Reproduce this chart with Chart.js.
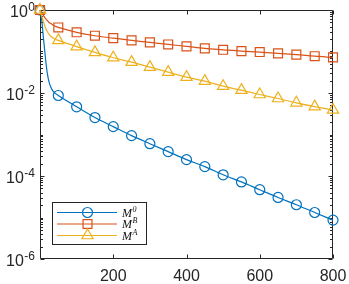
<!DOCTYPE html>
<html><head><meta charset="utf-8">
<script src="https://cdn.jsdelivr.net/npm/chart.js@4/dist/chart.umd.min.js"></script>
<style>html,body{margin:0;padding:0;background:#fff}#wrap{width:349px;height:284px}</style>
</head><body><div id="wrap"><canvas id="c" width="349" height="284"></canvas></div>
<script>
// ---- data ----
const iterations = [0,2,5,10,15,20,25,30,35,40,50,100,150,200,250,300,350,400,450,500,550,600,650,700,750,800];
const seriesM0 = [1,0.79,0.54,0.186,0.068,0.0297,0.018,0.0135,0.0113,0.0101,0.0087,0.00465,0.00256,0.00155,0.00094,0.0006,0.000386,0.000248,0.000168,0.000107,0.000072,0.0000467,0.0000304,0.0000203,0.0000132,0.00000865];
const seriesMB = [1,0.95,0.88,0.72,0.63,0.56,0.5,0.47,0.435,0.41,0.38,0.29,0.24,0.21,0.185,0.166,0.148,0.133,0.119,0.110,0.102,0.097,0.090,0.084,0.077,0.072];
const seriesMA = [1,0.85,0.7,0.5,0.37,0.3,0.26,0.23,0.215,0.2,0.185,0.131,0.095,0.0708,0.0555,0.042,0.0318,0.0241,0.0193,0.0146,0.0117,0.0092,0.00736,0.0058,0.0047,0.0039];
const seriesBase = ['M','M','M'];
const seriesSup = ['0','B','A'];
const xTickValues = [200,400,600,800];
const xTickLabels = ['200','400','600','800'];
const yTickValues = [1,1e-2,1e-4,1e-6];
const yTickBase = ['10','10','10','10'];
const yTickExp = ['0','-2','-4','-6'];

const colors = ['#0072BD','#D95319','#EDB120'];
const styles = ['circle','rect','triangle'];
const radii = [5,6.3,6.5];
const AX = '#262626';

function mk(vals, i){
  return {
    label: seriesBase[i]+seriesSup[i],
    data: iterations.map((x,k)=>({x:x, y:vals[k]})),
    borderColor: colors[i], backgroundColor:'rgba(0,0,0,0)',
    pointBorderColor: colors[i], pointBackgroundColor:'rgba(0,0,0,0)',
    pointStyle: styles[i], borderWidth:1.2, pointBorderWidth:1.2,
    pointRadius: c => (iterations[c.dataIndex] % 50 === 0 ? radii[i] : 0),
    cubicInterpolationMode:'monotone', clip:false, order: 2-i
  };
}

const axesPlugin = {
  id:'matlabAxes',
  beforeDatasetsDraw(chart){
    const {ctx, chartArea:a, scales:{x,y}} = chart;
    const L=Math.round(a.left)+0.5, R=Math.round(a.right)-0.5, T=Math.round(a.top)+0.5, B=Math.round(a.bottom)-0.5;
    ctx.save();
    ctx.strokeStyle=AX; ctx.lineWidth=1;
    ctx.beginPath();
    ctx.rect(L,T,R-L,B-T);
    xTickValues.forEach(v=>{
      const px=Math.round(x.getPixelForValue(v))+0.5;
      ctx.moveTo(px,B); ctx.lineTo(px,B-4);
      ctx.moveTo(px,T); ctx.lineTo(px,T+4);
    });
    for(let e=-6;e<=0;e++){
      for(let k=1;k<=9;k++){
        const v=k*Math.pow(10,e);
        if(v>1.0000001) break;
        const major = yTickValues.some(t=>Math.abs(t-v)<v*1e-6);
        const len = major?4:2.5;
        const py=Math.round(y.getPixelForValue(v))+0.5;
        ctx.moveTo(L,py); ctx.lineTo(L+len,py);
        ctx.moveTo(R,py); ctx.lineTo(R-len,py);
      }
    }
    ctx.stroke();
    ctx.fillStyle=AX;
    ctx.font='16px "Liberation Sans", Arial, sans-serif';
    ctx.textAlign='center'; ctx.textBaseline='alphabetic';
    xTickValues.forEach((v,i)=>{
      ctx.fillText(xTickLabels[i], x.getPixelForValue(v), 281);
    });
    yTickValues.forEach((v,i)=>{
      const py=y.getPixelForValue(v);
      ctx.font='12px "Liberation Sans", Arial, sans-serif';
      const ew=ctx.measureText(yTickExp[i]).width;
      ctx.textAlign='left';
      const right=35;
      ctx.fillText(yTickExp[i], right-ew, py+0.5);
      ctx.font='16px "Liberation Sans", Arial, sans-serif';
      ctx.textAlign='right';
      ctx.fillText(yTickBase[i], right-ew-0.5, py+6.5);
    });
    ctx.restore();
  }
};

const legendPlugin = {
  id:'matlabLegend',
  afterDatasetsDraw(chart){
    const ctx=chart.ctx;
    const bx=52.5, by=202.5, bw=94, bh=42;
    ctx.save();
    ctx.fillStyle='#fff'; ctx.fillRect(bx,by,bw,bh);
    ctx.strokeStyle=AX; ctx.lineWidth=1; ctx.strokeRect(bx,by,bw,bh);
    const rows=[212.5,224,235.5];
    for(let i=0;i<3;i++){
      const yy=rows[i];
      ctx.strokeStyle=colors[i]; ctx.lineWidth=1.2;
      ctx.beginPath(); ctx.moveTo(57,yy); ctx.lineTo(117,yy); ctx.stroke();
      ctx.fillStyle='rgba(0,0,0,0)';
      Chart.helpers.drawPoint(ctx,{pointStyle:styles[i],rotation:0,radius:radii[i],borderWidth:1.2},87.5,yy);
      ctx.fillStyle='#111';
      ctx.font='italic 12px "Liberation Serif", "Times New Roman", serif';
      ctx.textAlign='left'; ctx.textBaseline='alphabetic';
      ctx.fillText(seriesBase[i],122,yy+4);
      const mw=ctx.measureText(seriesBase[i]).width;
      ctx.font='italic 8px "Liberation Serif", "Times New Roman", serif';
      ctx.fillText(seriesSup[i],122+mw+0.5,yy-1);
    }
    ctx.restore();
  }
};

new Chart(document.getElementById('c').getContext('2d'), {
  type:'line',
  data:{datasets:[mk(seriesM0,0), mk(seriesMB,1), mk(seriesMA,2)]},
  options:{
    responsive:false, animation:false, devicePixelRatio:1,
    layout:{padding:{left:40,right:16,top:10,bottom:25}},
    plugins:{legend:{display:false}, tooltip:{enabled:false}},
    scales:{
      x:{type:'linear', min:0, max:800, display:false},
      y:{type:'logarithmic', min:1e-6, max:1, display:false}
    }
  },
  plugins:[axesPlugin, legendPlugin]
});
</script></body></html>
